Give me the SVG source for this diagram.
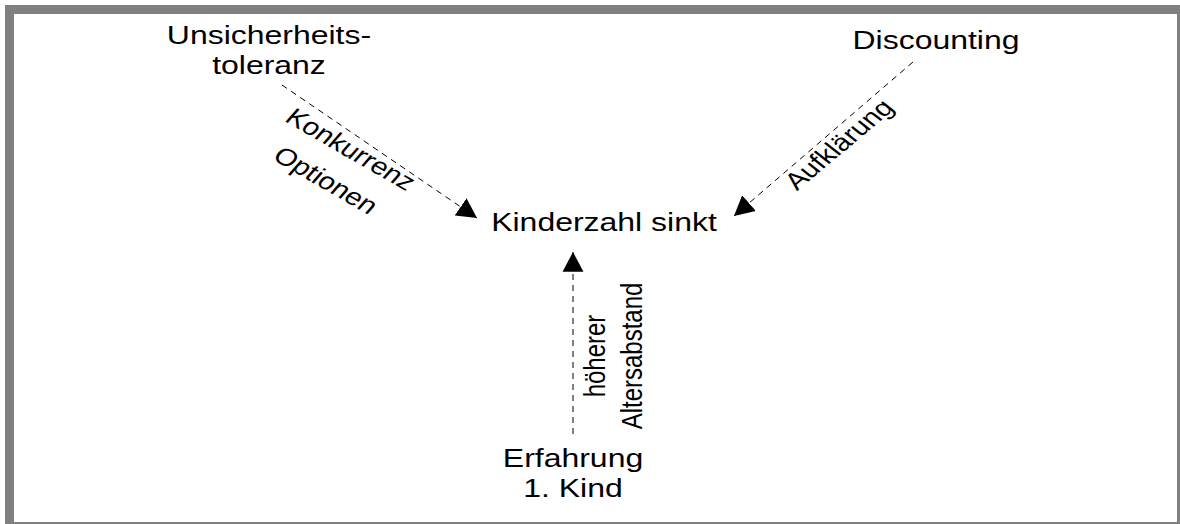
<svg xmlns="http://www.w3.org/2000/svg" width="1180" height="524" viewBox="0 0 1180 524">
<style>
.node{font-family:"Liberation Sans",Arial,sans-serif;font-size:26px;fill:#000;text-anchor:middle}
.lbl{font-family:"Liberation Sans",Arial,sans-serif;font-size:24px;fill:#000;text-anchor:middle}
.con{stroke:#000;stroke-width:1;stroke-dasharray:6,5;fill:none}
</style>
<defs>
<marker id="ah" markerUnits="userSpaceOnUse" markerWidth="22" markerHeight="22" viewBox="0 0 20 20" refX="18" refY="10" orient="auto">
<path d="M0,0.5 L18,10 L0,19.5 Z" fill="#000"/>
</marker>
</defs>
<rect x="0" y="0" width="1180" height="524" fill="#fff"/>
<rect x="9.5" y="9.5" width="1172" height="517" fill="none" stroke="#808080" stroke-width="9"/>
<g id="connectors">
<line class="con" x1="282" y1="85" x2="477" y2="218" marker-end="url(#ah)"/>
<line class="con" x1="913" y1="62" x2="734" y2="216" marker-end="url(#ah)"/>
<line class="con" x1="573" y1="434" x2="573" y2="252" marker-end="url(#ah)"/>
<text class="lbl" transform="translate(345,156) scale(1.23,1) rotate(35.4)">Konkurrenz</text>
<text class="lbl" transform="translate(320,187) scale(1.23,1) rotate(35.4)">Optionen</text>
<text class="lbl" transform="translate(846,150) scale(1.23,1) rotate(-45.9)">Aufklärung</text>
<text class="lbl" transform="translate(605,356) scale(1.23,1) rotate(-90)">höherer</text>
<text class="lbl" transform="translate(642,356) scale(1.23,1) rotate(-90)">Altersabstand</text>
</g>
<g id="n-unsicherheit">
<text class="node" transform="translate(269,44) scale(1.23,1)">Unsicherheits-</text>
<text class="node" transform="translate(269,74) scale(1.23,1)">toleranz</text>
</g>
<g id="n-discounting">
<text class="node" transform="translate(936,49) scale(1.23,1)">Discounting</text>
</g>
<g id="n-kinderzahl">
<text class="node" transform="translate(604,231) scale(1.23,1)">Kinderzahl sinkt</text>
</g>
<g id="n-erfahrung">
<text class="node" transform="translate(573,467) scale(1.23,1)">Erfahrung</text>
<text class="node" transform="translate(573,497) scale(1.23,1)">1. Kind</text>
</g>
</svg>
